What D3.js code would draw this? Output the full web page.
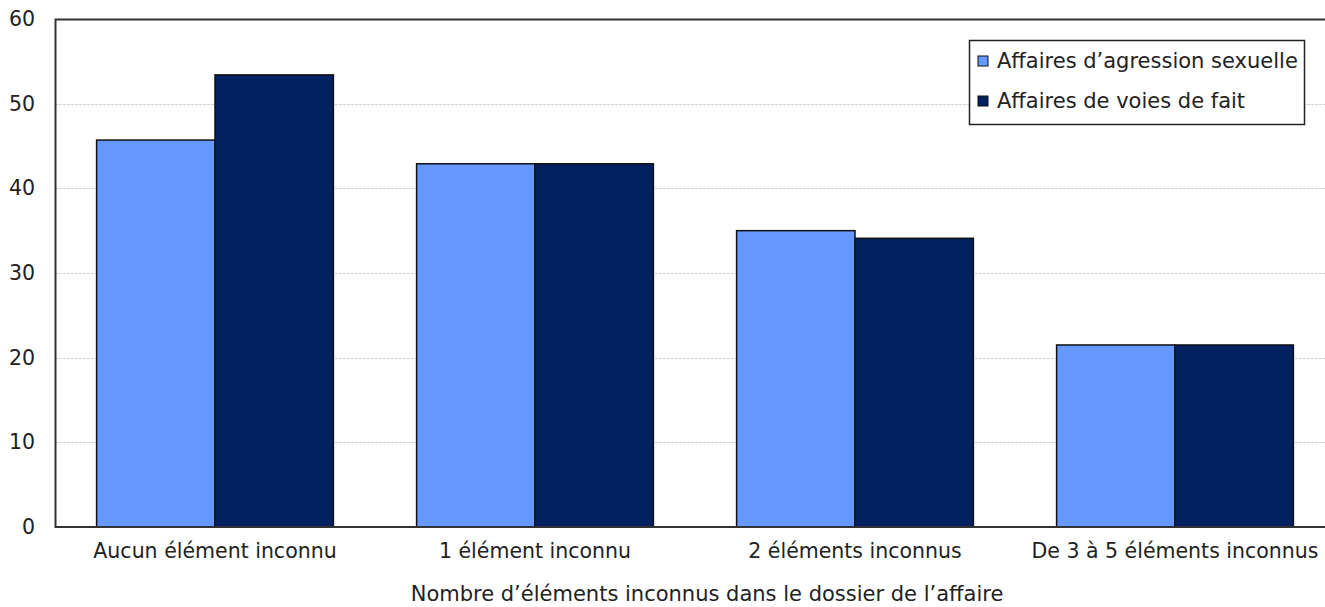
<!DOCTYPE html>
<html>
<head>
<meta charset="utf-8">
<script src="https://cdn.jsdelivr.net/npm/d3@7"></script>
<style>
  body { margin: 0; background: #fff; }
  svg { display: block; }
  text { font-family: "DejaVu Sans", Verdana, sans-serif; fill: #222; }
</style>
</head>
<body>
<script>
// Categories: number of unknown elements in the case file
const categories = [
  "Aucun élément inconnu",
  "1 élément inconnu",
  "2 éléments inconnus",
  "De 3 à 5 éléments inconnus"
];
const seriesNames = ["Affaires d’agression sexuelle", "Affaires de voies de fait"];
const sexualAssault = [45.7, 42.9, 35.0, 21.5];
const assault = [53.4, 42.9, 34.1, 21.5];
const yTicks = [0, 10, 20, 30, 40, 50, 60];
const colors = ["#6699ff", "#002060"];
const xTitle = "Nombre d’éléments inconnus dans le dossier de l’affaire";

const W = 1325, H = 607;
const margin = { top: 19, left: 55, bottom: 80 };
const plotRight = 1335;
const FS = 20.5;

const svg = d3.select("body").append("svg").attr("width", W).attr("height", H);

const x0 = d3.scaleBand().domain(categories).range([margin.left, plotRight]).paddingInner(0.26).paddingOuter(0.13);
const x1 = d3.scaleBand().domain([0, 1]).range([0, x0.bandwidth()]);
const y = d3.scaleLinear().domain([0, 60]).range([H - margin.bottom, margin.top]);

// horizontal gridlines
svg.append("g").selectAll("line").data(yTicks.filter(t => t > 0 && t < 60)).join("line")
  .attr("x1", margin.left).attr("x2", plotRight)
  .attr("y1", d => Math.round(y(d)) + 0.5).attr("y2", d => Math.round(y(d)) + 0.5)
  .attr("stroke", "#d0d0d0").attr("stroke-width", 1).attr("stroke-dasharray", "3,1");

// bars
const data = categories.map((c, i) => ({ c, vals: [sexualAssault[i], assault[i]] }));
svg.append("g").selectAll("g").data(data).join("g")
  .attr("transform", d => `translate(${x0(d.c)},0)`)
  .selectAll("rect").data(d => d.vals.map((v, k) => ({ v, k }))).join("rect")
  .attr("x", d => x1(d.k)).attr("width", x1.bandwidth())
  .attr("y", d => y(d.v)).attr("height", d => y(0) - y(d.v))
  .attr("fill", d => colors[d.k]).attr("stroke", "#111").attr("stroke-width", 1.5);

// plot frame (top, left, bottom)
svg.append("path")
  .attr("d", `M${plotRight},${margin.top + 0.5}H${margin.left + 0.5}V${y(0)}H${plotRight}`)
  .attr("fill", "none").attr("stroke", "#333").attr("stroke-width", 2);

// y axis labels
const yAxis = d3.axisLeft(y).tickValues(yTicks).tickSize(0).tickPadding(20);
const gy = svg.append("g").attr("transform", `translate(${margin.left},0)`).call(yAxis);
gy.select(".domain").remove();
gy.selectAll("text").attr("font-size", FS).style("font-family", "DejaVu Sans, sans-serif").attr("fill", "#222");

// x axis labels
const xAxis = d3.axisBottom(x0).tickSize(0).tickPadding(16);
const gx = svg.append("g").attr("transform", `translate(0,${y(0)})`).call(xAxis);
gx.select(".domain").remove();
gx.selectAll("text").attr("font-size", FS).style("font-family", "DejaVu Sans, sans-serif").attr("fill", "#222");

// x axis title
svg.append("text").attr("x", 707).attr("y", 601).attr("text-anchor", "middle")
  .attr("font-size", 21).text(xTitle);

// legend
const lg = svg.append("g").attr("transform", "translate(969,40)");
lg.append("rect").attr("x", 0.5).attr("y", 0.5).attr("width", 335).attr("height", 84)
  .attr("fill", "#fff").attr("stroke", "#222").attr("stroke-width", 1.5);
seriesNames.forEach((n, i) => {
  const row = lg.append("g").attr("transform", `translate(9,${22 + i * 40})`);
  row.append("rect").attr("x", 0).attr("y", -6).attr("width", 10).attr("height", 10)
    .attr("fill", colors[i]).attr("stroke", "#111").attr("stroke-width", 1);
  row.append("text").attr("x", 19).attr("y", 6).attr("font-size", 21).text(n);
});
</script>
</body>
</html>
